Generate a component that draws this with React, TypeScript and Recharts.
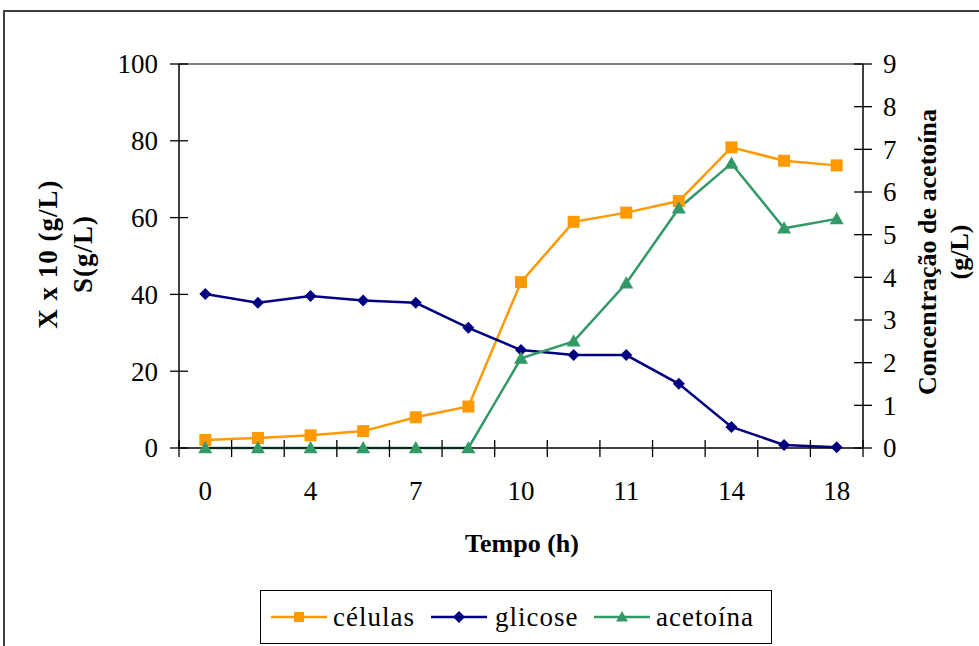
import { Line, LineChart, ReferenceLine, XAxis, YAxis } from "recharts";

// tempo (h) – only every other category carries a label in the original
const tempoLabels = ["0", "", "4", "", "7", "", "10", "", "11", "", "14", "", "18"];
const celulas = [2.1, 2.6, 3.3, 4.4, 8.0, 10.8, 43.2, 58.9, 61.3, 64.3, 78.3, 74.8, 73.6];
const glicose = [40.1, 37.8, 39.6, 38.4, 37.8, 31.3, 25.5, 24.2, 24.2, 16.7, 5.5, 0.8, 0.2];
const acetoina = [0, 0, 0, 0, 0, 0, 2.1, 2.5, 3.86, 5.62, 6.67, 5.15, 5.37];
const leftTicks = [0, 20, 40, 60, 80, 100];
const rightTicks = [0, 1, 2, 3, 4, 5, 6, 7, 8, 9];

const data = tempoLabels.map((t, i) => ({
	idx: i,
	celulas: celulas[i],
	glicose: glicose[i],
	acetoina: acetoina[i],
}));

const W = 979;
const H = 646;
const LEFT_W = 179;
const RIGHT_W = 116;
const TOP = 64;
const X_H = 198;
const BAND = (W - LEFT_W - RIGHT_W) / tempoLabels.length;

const ORANGE = "#FF9900";
const NAVY = "#000080";
const GREEN = "#339966";
const FONT = '"Liberation Serif", "Times New Roman", serif';

function square(color: string, size = 12) {
	return (p: any) => (
		<rect
			key={`sq-${p.index}`}
			x={p.cx - size / 2}
			y={p.cy - size / 2}
			width={size}
			height={size}
			fill={color}
		/>
	);
}

function diamond(color: string, r = 6) {
	return (p: any) => (
		<polygon
			key={`dm-${p.index}`}
			points={`${p.cx},${p.cy - r} ${p.cx + r},${p.cy} ${p.cx},${p.cy + r} ${p.cx - r},${p.cy}`}
			fill={color}
		/>
	);
}

function triangle(color: string, r = 7) {
	return (p: any) => (
		<polygon
			key={`tr-${p.index}`}
			points={`${p.cx},${p.cy - r} ${p.cx + r},${p.cy + r * 0.75} ${p.cx - r},${p.cy + r * 0.75}`}
			fill={color}
		/>
	);
}

function XTick(props: any) {
	const { x, y, index } = props;
	const label = tempoLabels[index];
	return (
		<g>
			<line x1={x - BAND / 2} x2={x - BAND / 2} y1={y - 8} y2={y + 9} stroke="#000" strokeWidth={1.3} />
			{index === tempoLabels.length - 1 ? (
				<line x1={x + BAND / 2} x2={x + BAND / 2} y1={y - 8} y2={y + 9} stroke="#000" strokeWidth={1.3} />
			) : null}
			{label ? (
				<text x={x} y={y + 52} textAnchor="middle" fontSize={27} fontFamily={FONT} fill="#000">
					{label}
				</text>
			) : null}
		</g>
	);
}

function LeftTick(props: any) {
	const { x, y, payload } = props;
	return (
		<g>
			<line x1={x - 9} x2={x + 9} y1={y} y2={y} stroke="#000" strokeWidth={1.3} />
			<text x={x - 21} y={y} dy="0.35em" textAnchor="end" fontSize={27} fontFamily={FONT} fill="#000">
				{payload.value}
			</text>
		</g>
	);
}

function RightTick(props: any) {
	const { x, y, payload } = props;
	return (
		<g>
			<line x1={x - 9} x2={x + 9} y1={y} y2={y} stroke="#000" strokeWidth={1.3} />
			<text x={x + 20} y={y} dy="0.35em" textAnchor="start" fontSize={27} fontFamily={FONT} fill="#000">
				{payload.value}
			</text>
		</g>
	);
}

const legendItems = [
	{ name: "células", color: ORANGE, marker: "square", lineX: 271, textX: 333 },
	{ name: "glicose", color: NAVY, marker: "diamond", lineX: 431, textX: 495 },
	{ name: "acetoína", color: GREEN, marker: "triangle", lineX: 594, textX: 656 },
];

function LegendMarker({ color, marker }: { color: string; marker: string }) {
	return (
		<svg width={56} height={16} style={{ display: "block" }}>
			<line x1={0} x2={56} y1={8} y2={8} stroke={color} strokeWidth={2.5} />
			{marker === "square" ? <rect x={23} y={3} width={10} height={10} fill={color} /> : null}
			{marker === "diamond" ? <polygon points="28,2 34,8 28,14 22,8" fill={color} /> : null}
			{marker === "triangle" ? <polygon points="28,2 34,12.5 22,12.5" fill={color} /> : null}
		</svg>
	);
}

export default function App() {
	return (
		<div style={{ position: "absolute", left: 0, top: 0, width: W, height: H, background: "#fff", overflow: "hidden" }}>
			<div
				style={{
					position: "absolute",
					left: 3,
					top: 10,
					width: W - 3,
					height: H - 10,
					boxSizing: "border-box",
					borderTop: "2px solid #404040",
					borderLeft: "2px solid #404040",
				}}
			/>
			<div style={{ position: "absolute", left: 0, top: 0 }}>
				<LineChart width={W} height={H} data={data} margin={{ top: TOP, right: 0, bottom: 0, left: 0 }}>
					<XAxis
						dataKey="idx"
						type="category"
						height={X_H}
						padding={{ left: BAND / 2, right: BAND / 2 }}
						interval={0}
						tickLine={false}
						tickSize={0}
						tickMargin={0}
						axisLine={{ stroke: "#000", strokeWidth: 1.5 }}
						tick={XTick}
					/>
					<YAxis
						yAxisId="left"
						orientation="left"
						width={LEFT_W}
						domain={[0, 100]}
						ticks={leftTicks}
						interval={0}
						tickLine={false}
						tickSize={0}
						tickMargin={0}
						axisLine={{ stroke: "#000", strokeWidth: 1.5 }}
						tick={LeftTick}
					/>
					<YAxis
						yAxisId="right"
						orientation="right"
						width={RIGHT_W}
						domain={[0, 9]}
						ticks={rightTicks}
						interval={0}
						tickLine={false}
						tickSize={0}
						tickMargin={0}
						axisLine={{ stroke: "#000", strokeWidth: 1.5 }}
						tick={RightTick}
					/>
					<ReferenceLine yAxisId="left" y={100} stroke="#808080" strokeWidth={2} />
					<Line
						yAxisId="left"
						dataKey="celulas"
						stroke={ORANGE}
						strokeWidth={2.5}
						dot={square(ORANGE)}
						isAnimationActive={false}
					/>
					<Line
						yAxisId="left"
						dataKey="glicose"
						stroke={NAVY}
						strokeWidth={2.5}
						dot={diamond(NAVY)}
						isAnimationActive={false}
					/>
					<Line
						yAxisId="right"
						dataKey="acetoina"
						stroke={GREEN}
						strokeWidth={2.5}
						dot={triangle(GREEN)}
						isAnimationActive={false}
					/>
				</LineChart>
			</div>

			{/* left axis title */}
			<div
				style={{
					position: "absolute",
					left: 66,
					top: 254,
					transform: "translate(-50%, -50%) rotate(-90deg)",
					whiteSpace: "nowrap",
					textAlign: "center",
					fontFamily: FONT,
					fontWeight: "bold",
					fontSize: 27,
					letterSpacing: 1,
					lineHeight: "35px",
				}}
			>
				X x 10 (g/L)
				<br />
				S(g/L)
			</div>

			{/* right axis title */}
			<div
				style={{
					position: "absolute",
					left: 944,
					top: 252,
					transform: "translate(-50%, -50%) rotate(-90deg)",
					whiteSpace: "nowrap",
					textAlign: "center",
					fontFamily: FONT,
					fontWeight: "bold",
					fontSize: 26,
					lineHeight: "32px",
				}}
			>
				Concentração de acetoína
				<br />
				(g/L)
			</div>

			{/* x axis title */}
			<div
				style={{
					position: "absolute",
					left: 522,
					top: 544,
					transform: "translate(-50%, -50%)",
					whiteSpace: "nowrap",
					fontFamily: FONT,
					fontWeight: "bold",
					fontSize: 26,
				}}
			>
				Tempo (h)
			</div>

			{/* legend */}
			<div
				style={{
					position: "absolute",
					left: 260,
					top: 590,
					width: 512,
					height: 54,
					boxSizing: "border-box",
					border: "1.5px solid #000",
				}}
			/>
			{legendItems.map((it) => (
				<div key={it.name}>
					<div style={{ position: "absolute", left: it.lineX, top: 609 }}>
						<LegendMarker color={it.color} marker={it.marker} />
					</div>
					<div
						style={{
							position: "absolute",
							left: it.textX,
							top: 617,
							transform: "translateY(-50%)",
							whiteSpace: "nowrap",
							fontFamily: FONT,
							fontSize: 27,
							letterSpacing: 1,
							lineHeight: "30px",
						}}
					>
						{it.name}
					</div>
				</div>
			))}
		</div>
	);
}
